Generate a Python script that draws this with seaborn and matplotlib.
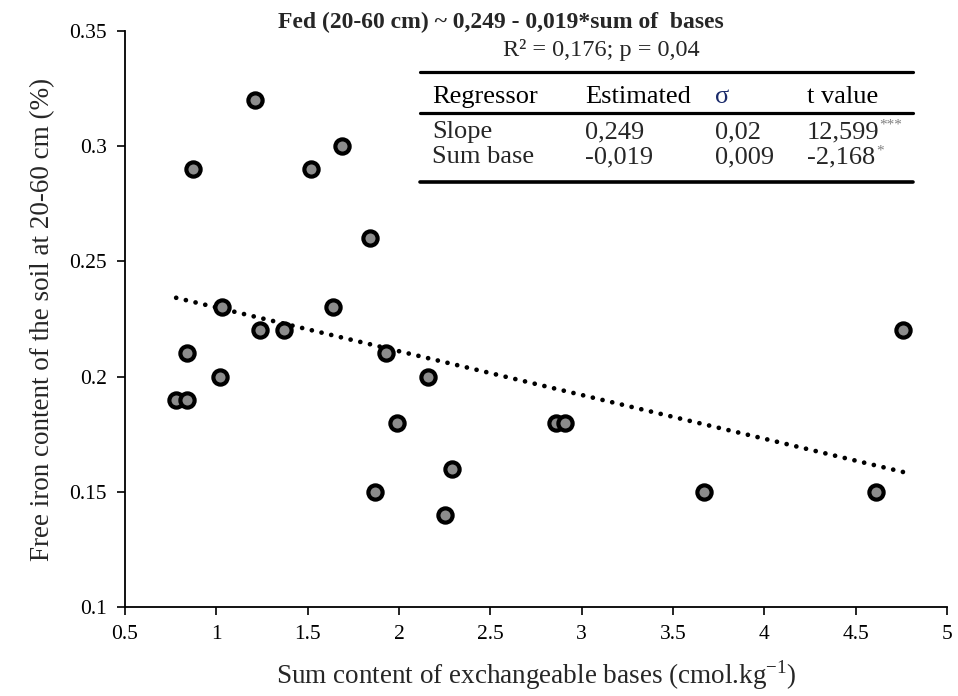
import numpy as np
import pandas as pd
import matplotlib.pyplot as plt
import seaborn as sns

# sum of exchangeable bases (cmol/kg) and free iron at 20-60 cm (%)
sum_bases = [0.78, 0.84, 0.84, 0.87, 1.02, 1.03, 1.21, 1.24, 1.37, 1.52, 1.64,
             1.69, 1.84, 1.87, 1.93, 1.99, 2.16, 2.25, 2.29, 2.86, 2.91, 3.67,
             4.61, 4.76]
fed = [0.19, 0.19, 0.21, 0.29, 0.20, 0.23, 0.32, 0.22, 0.22, 0.29, 0.23,
       0.30, 0.26, 0.15, 0.21, 0.18, 0.20, 0.14, 0.16, 0.18, 0.18, 0.15,
       0.15, 0.22]

intercept = 0.249
slope = -0.019

table_header = ['Regressor', 'Estimated', 'σ', 't value']
table_rows = [['Slope', '0,249', '0,02', '12,599'],
              ['Sum base', '-0,019', '0,009', '-2,168']]
signif = ['***', '*']

df = pd.DataFrame({'bases': sum_bases, 'fed': fed})
x_fit = np.array([min(sum_bases), max(sum_bases)])
fit = pd.DataFrame({'bases': x_fit, 'fed': intercept + slope * x_fit})

sns.set_style('ticks')
plt.rcParams['font.family'] = ['Liberation Serif', 'DejaVu Serif']

fig = plt.figure(figsize=(9.58, 6.96), dpi=100)
ax = fig.add_axes([0.1305, 0.128, 0.858, 0.8275])

sns.lineplot(data=fit, x='bases', y='fed', ax=ax, color='black', lw=3.4,
             linestyle=(0, (0.01, 2.1)), dash_capstyle='round')
sns.scatterplot(data=df, x='bases', y='fed', ax=ax, s=105, color='#8c8c8c',
                edgecolor='black', linewidth=3.0, zorder=3)

ax.set_xlim(0.5, 5)
ax.set_ylim(0.1, 0.35)
ax.set_xticks(np.arange(0.5, 5.01, 0.5))
ax.set_xticklabels(['0.5', '1', '1.5', '2', '2.5', '3', '3.5', '4', '4.5', '5'])
ax.set_yticks([0.1, 0.15, 0.2, 0.25, 0.3, 0.35])
ax.set_yticklabels(['0.1', '0.15', '0.2', '0.25', '0.3', '0.35'])
ax.tick_params(labelsize=15.5, length=6, width=1.2, colors='black', pad=7)
for s in ['left', 'bottom']:
    ax.spines[s].set_linewidth(1.3)
    ax.spines[s].set_color('black')
sns.despine(ax=ax)

ax.set_xlabel('Sum content of exchangeable bases (cmol.kg$^{\\mathregular{-1}}$)',
              fontsize=19.5, labelpad=10)
ax.set_ylabel('Free iron content of the soil at 20-60 cm (%)', fontsize=19.5,
              labelpad=10)

W, H = 958, 696


def ftext(px, py, s, **kw):
    fig.text(px / W, 1 - py / H, s, **kw)


ftext(501, 28, 'Fed (20-60 cm) ~ 0,249 - 0,019*sum of  bases', ha='center',
      va='baseline', fontsize=17, fontweight='bold')
ftext(601, 56, 'R² = 0,176; p = 0,04', ha='center', va='baseline', fontsize=17.5)

# regression table
col_x = [432, 585, 715, 807]
for px, lab in zip(col_x, table_header):
    color = '#1a2a6a' if lab == 'σ' else 'black'
    ftext(px, 103, lab, ha='left', va='baseline', fontsize=19, color=color)
for ry, row in zip([138, 163], table_rows):
    for px, val in zip(col_x, row):
        ftext(px, ry, val, ha='left', va='baseline', fontsize=19)
ftext(879, 129, signif[0], ha='left', va='baseline', fontsize=11, color='#808080')
ftext(876, 155, signif[1], ha='left', va='baseline', fontsize=11, color='#808080')

for py, lw in [(72, 2.3), (113, 2.3), (182, 2.6)]:
    fig.add_artist(plt.Line2D([420 / W, 913 / W], [1 - py / H, 1 - py / H],
                              color='black', lw=lw))

fig.savefig('out.png', dpi=100)
